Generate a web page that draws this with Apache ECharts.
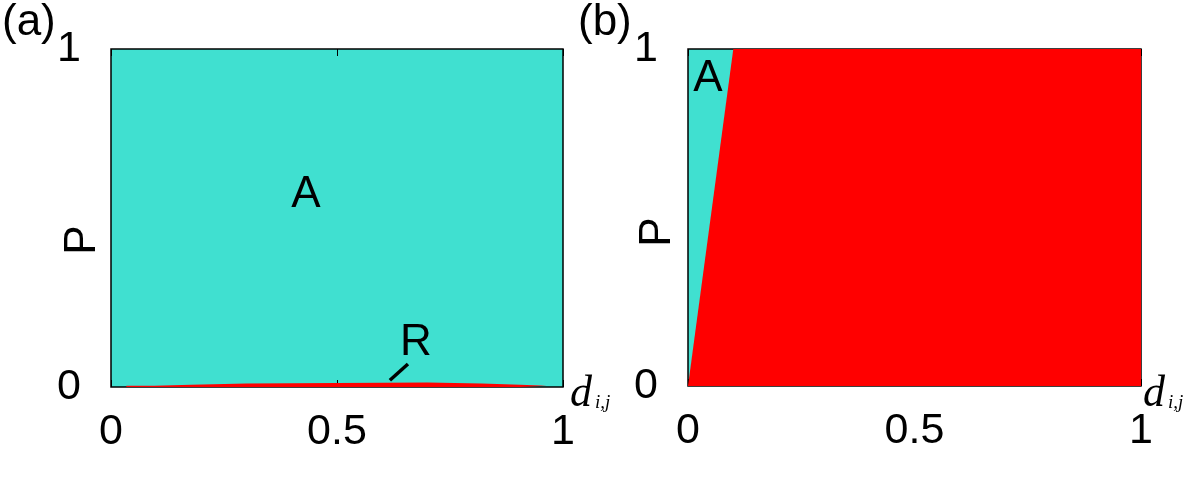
<!DOCTYPE html>
<html>
<head>
<meta charset="utf-8">
<script src="https://cdn.jsdelivr.net/npm/echarts@6/dist/echarts.min.js"></script>
<style>
  html, body { margin: 0; padding: 0; background: #fff; }
  #chart { width: 1200px; height: 480px; }
</style>
</head>
<body>
<div id="chart"></div>
<script>
// panel (a): thin red strip along P = 0 (boundary of R region)
var stripD = [0.034, 0.096, 0.178, 0.30, 0.70, 0.82, 0.905, 0.964];
var stripP = [0.004, 0.007, 0.010, 0.013, 0.010, 0.007, 0.004, 0.004];
// panel (b): boundary between A and R
var boundD = [0, 0.1, 1];
var boundP = [0, 1, 1];
// pointer from "R" label in panel (a)
var pointerD = [0.617, 0.657];
var pointerP = [0.02, 0.068];
var xTicks = ["0", "0.5", "1"];
var yTicks = ["0", "1"];

var cyan = "#40E0D0";
var red = "#FF0000";
var font = "Liberation Sans, Arial, sans-serif";
var serif = "Liberation Serif, Times New Roman, serif";

var stripData = [];
for (var i = 0; i < stripD.length; i++) stripData.push([stripD[i], stripP[i]]);
stripData.push([stripD[stripD.length - 1], 0]);
var boundData = boundD.map(function (d, i) { return [d, boundP[i]]; });

function xLabel(v) {
  if (v === 0) return xTicks[0];
  if (v === 0.5) return xTicks[1];
  return xTicks[2];
}

function xAxes(gi) {
  return [
    {
      gridIndex: gi, type: "value", min: 0, max: 1, interval: 0.5, position: "bottom",
      axisLine: { show: false },
      axisTick: { inside: true, length: 7, lineStyle: { color: "#000", width: 1 } },
      splitLine: { show: false },
      axisLabel: { fontSize: 43, color: "#000", fontFamily: font, margin: 24, formatter: xLabel }
    },
    {
      gridIndex: gi, type: "value", min: 0, max: 1, interval: 0.5, position: "top",
      axisLine: { show: false },
      axisTick: { inside: true, length: 7, lineStyle: { color: "#000", width: 1 } },
      splitLine: { show: false },
      axisLabel: { show: false }
    }
  ];
}

function yAxis(gi) {
  return {
    gridIndex: gi, type: "value", min: 0, max: 1, interval: 1,
    axisLine: { show: false }, axisTick: { show: false }, splitLine: { show: false },
    axisLabel: { fontSize: 43, color: "#000", fontFamily: font, margin: 30,
      formatter: function (v) { return v === 0 ? yTicks[0] : yTicks[1]; } }
  };
}

var myChart = echarts.init(document.getElementById("chart"));
var option = {
  animation: false,
  backgroundColor: "#fff",
  grid: [
    { left: 111, top: 49, width: 452, height: 338, show: true, backgroundColor: cyan, borderColor: "#000", borderWidth: 1.5, z: 0 },
    { left: 688, top: 49, width: 453, height: 337, show: true, backgroundColor: cyan, borderColor: "#000", borderWidth: 1.5, z: 0 }
  ],
  xAxis: xAxes(0).concat(xAxes(1)),
  yAxis: [yAxis(0), yAxis(1)],
  series: [
    {
      type: "line", xAxisIndex: 0, yAxisIndex: 0, data: stripData, step: "end",
      symbol: "none", lineStyle: { width: 0 }, areaStyle: { color: red, opacity: 1 }
    },
    {
      type: "line", xAxisIndex: 0, yAxisIndex: 0,
      data: pointerD.map(function (d, i) { return [d, pointerP[i]]; }),
      symbol: "none", lineStyle: { color: "#000", width: 3.5 }
    },
    {
      type: "line", xAxisIndex: 2, yAxisIndex: 1, data: boundData,
      symbol: "none", lineStyle: { width: 0 }, areaStyle: { color: red, opacity: 1 }
    }
  ],
  graphic: [
    { type: "text", left: 2, top: 1, style: { text: "(a)", font: "44px " + font, fill: "#000" } },
    { type: "text", left: 578, top: 1, style: { text: "(b)", font: "44px " + font, fill: "#000" } },
    { type: "text", x: 306, y: 195, style: { text: "A", font: "44px " + font, fill: "#000", align: "center", verticalAlign: "middle" } },
    { type: "text", x: 416, y: 343, style: { text: "R", font: "44px " + font, fill: "#000", align: "center", verticalAlign: "middle" } },
    { type: "text", x: 708, y: 79, style: { text: "A", font: "44px " + font, fill: "#000", align: "center", verticalAlign: "middle" } },
    { type: "text", x: 950, y: 229, style: { text: "R", font: "44px " + font, fill: "#000", align: "center", verticalAlign: "middle" } },
    { type: "text", x: 83, y: 240, rotation: Math.PI / 2, style: { text: "P", font: "44px " + font, fill: "#000", align: "center", verticalAlign: "middle" } },
    { type: "text", x: 658, y: 232, rotation: Math.PI / 2, style: { text: "P", font: "44px " + font, fill: "#000", align: "center", verticalAlign: "middle" } },
    { type: "text", x: 570, y: 372, style: { text: "d", font: "italic 44px " + serif, fill: "#000" } },
    { type: "text", x: 595, y: 393, style: { text: "i,j", font: "italic 19px " + serif, fill: "#000" } },
    { type: "text", x: 1143, y: 372, style: { text: "d", font: "italic 44px " + serif, fill: "#000" } },
    { type: "text", x: 1168, y: 393, style: { text: "i,j", font: "italic 19px " + serif, fill: "#000" } }
  ]
};
option && myChart.setOption(option);
</script>
</body>
</html>
